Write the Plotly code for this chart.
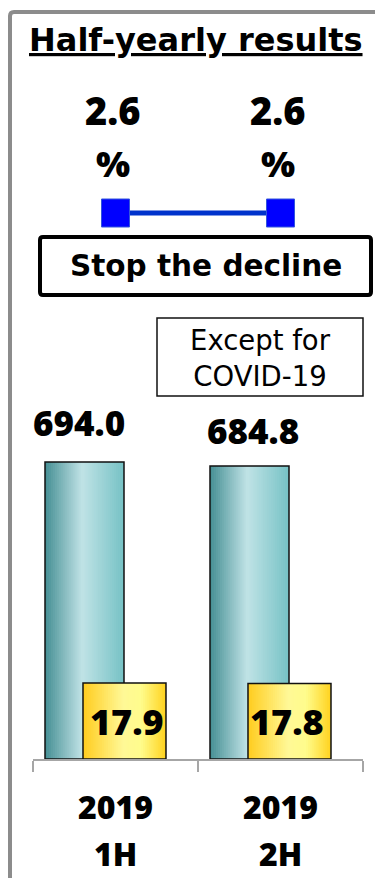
import plotly.graph_objects as go

# ---- data -------------------------------------------------------------
categories = ["2019 1H", "2019 2H"]
year_labels = ["2019", "2019"]
half_labels = ["1H", "2H"]
sales = [694.0, 684.8]            # large (teal) bars, left axis
profit = [17.9, 17.8]             # small (yellow) bars, right axis
margin_pct = [2.6, 2.6]           # line on top

# ---- canvas geometry (pixels) ----------------------------------------
W, H = 375, 878
L, R, T, B = 33, 12, 60, 119
PW, PH = W - L - R, H - T - B
NUM_FONT = "Open Sans"
WORD_FONT = "DejaVu Sans"


def xp(px):
    return (px - L) / PW


def yp(px):
    return (H - B - px) / PH


def lerp_color(stops, t):
    for (t0, c0), (t1, c1) in zip(stops, stops[1:]):
        if t <= t1:
            f = 0 if t1 == t0 else (t - t0) / (t1 - t0)
            c = [round(a + (b - a) * f) for a, b in zip(c0, c1)]
            return f"rgb({c[0]},{c[1]},{c[2]})"
    c = stops[-1][1]
    return f"rgb({c[0]},{c[1]},{c[2]})"


TEAL = [(0.0, (70, 143, 148)), (0.47, (192, 227, 230)), (1.0, (118, 194, 197))]
GOLD = [(0.0, (255, 204, 30)), (0.48, (255, 248, 150)), (0.7, (255, 252, 140)), (1.0, (255, 210, 30))]

fig = go.Figure()


def gradient_bar(y, yaxis, offset, width, stops, n=40):
    # horizontal gradient made of overlapping strips sharing the same height
    for i in range(n):
        t = (i + 0.5) / n
        fig.add_trace(go.Bar(
            x=categories, y=y, yaxis=yaxis,
            offset=offset + width * i / n, width=width * (n - i) / n,
            marker=dict(color=lerp_color(stops, t), line=dict(width=0)),
            hoverinfo="skip", showlegend=False,
        ))
    fig.add_trace(go.Bar(
        x=categories, y=y, yaxis=yaxis, offset=offset, width=width,
        marker=dict(color="rgba(0,0,0,0)", line=dict(color="#111111", width=1.5)),
        showlegend=False,
    ))


gradient_bar(sales, "y", -0.4273, 0.4788, TEAL)
gradient_bar(profit, "y2", -0.197, 0.503, GOLD)

fig.add_trace(go.Scatter(
    x=categories, y=margin_pct, yaxis="y3", mode="lines+markers",
    line=dict(color="#0033CC", width=5),
    marker=dict(symbol="square", size=28, color="#0000FF",
                line=dict(color="#3355DD", width=1)),
    showlegend=False,
))


def note(x, y, text, family, size, weight=700, **kw):
    return dict(x=x, y=y, text=text, showarrow=False,
                xanchor="center", yanchor="middle",
                font=dict(family=family, size=size, color="black",
                          weight=weight), **kw)


ann = []
# title
ann.append(note(xp(196), yp(40), "<u>Half-yearly results</u>", WORD_FONT, 32,
                xref="paper", yref="paper"))
# margin labels above markers
for c, v in zip(categories, margin_pct):
    ann.append(note(c, v, f"{v:.1f}", NUM_FONT, 38, 800, xref="x", yref="y3",
                    yshift=103, xshift=-3))
    ann.append(note(c, v, "%", NUM_FONT, 36, 800, xref="x", yref="y3",
                    yshift=50, xshift=-3))
# boxed notes
ann.append(note(xp(205.5), yp(266), "Stop the decline", WORD_FONT, 29.5,
                xref="paper", yref="paper"))
ann.append(note(xp(260), yp(358), "Except for<br>COVID-19", WORD_FONT, 27.5,
                400, xref="paper", yref="paper"))
# sales value labels
for c, v, dx, dy in zip(categories, sales, [-36.5, -27.5], [40, 35]):
    ann.append(note(c, v, f"{v:.1f}", NUM_FONT, 35, 800, xref="x", yref="y",
                    xshift=dx, yshift=dy))
# profit value labels, centred in the yellow bars
for c, v, dx in zip(categories, profit, [11.5, 6]):
    ann.append(note(c, v / 2, f"{v:.1f}", NUM_FONT, 36, 800, xref="x",
                    yref="y2", xshift=dx))
# category labels
for c, yr, hf in zip(categories, year_labels, half_labels):
    ann.append(note(c, yp(806), yr, NUM_FONT, 32, 800, xref="x", yref="paper"))
    ann.append(note(c, yp(853), hf, NUM_FONT, 32, 800, xref="x", yref="paper"))


def rounded_rect(x0, y0, x1, y1, r):
    # pixel box -> paper-space path with small rounded corners
    pts = [
        f"M {xp(x0 + r)} {yp(y0)}", f"L {xp(x1 - r)} {yp(y0)}",
        f"Q {xp(x1)} {yp(y0)} {xp(x1)} {yp(y0 + r)}",
        f"L {xp(x1)} {yp(y1 - r)}",
        f"Q {xp(x1)} {yp(y1)} {xp(x1 - r)} {yp(y1)}",
        f"L {xp(x0 + r)} {yp(y1)}",
        f"Q {xp(x0)} {yp(y1)} {xp(x0)} {yp(y1 - r)}",
        f"L {xp(x0)} {yp(y0 + r)}",
        f"Q {xp(x0)} {yp(y0)} {xp(x0 + r)} {yp(y0)} Z",
    ]
    return " ".join(pts)


shapes = [
    dict(type="path", xref="paper", yref="paper",
         path=rounded_rect(10, 12, 420, 920, 4),
         line=dict(color="#8C8C8C", width=4)),
    dict(type="path", xref="paper", yref="paper",
         path=rounded_rect(40, 237, 371, 295, 3),
         line=dict(color="black", width=4)),
    dict(type="rect", xref="paper", yref="paper",
         x0=xp(157), x1=xp(363), y0=yp(318), y1=yp(396),
         line=dict(color="#111111", width=1.5)),
]

fig.update_layout(
    width=W, height=H,
    margin=dict(l=L, r=R, t=T, b=B),
    paper_bgcolor="white", plot_bgcolor="white",
    barmode="overlay",
    xaxis=dict(type="category", range=[-0.5, 1.5], showline=True,
               linecolor="#A6A6A6", linewidth=2, ticks="outside",
               tickson="boundaries", ticklen=11, tickcolor="#A6A6A6",
               tickwidth=2, showticklabels=False, showgrid=False,
               fixedrange=True),
    yaxis=dict(range=[0, PH / 0.42795], visible=False, fixedrange=True),
    yaxis2=dict(range=[0, PH / 4.2458], overlaying="y", visible=False,
                fixedrange=True),
    yaxis3=dict(range=[0, 2.6 / ((H - B - 213) / PH)], overlaying="y",
                visible=False, fixedrange=True),
    annotations=ann,
    shapes=shapes,
    showlegend=False,
)

fig.write_html("out.html", config={"displayModeBar": False})
